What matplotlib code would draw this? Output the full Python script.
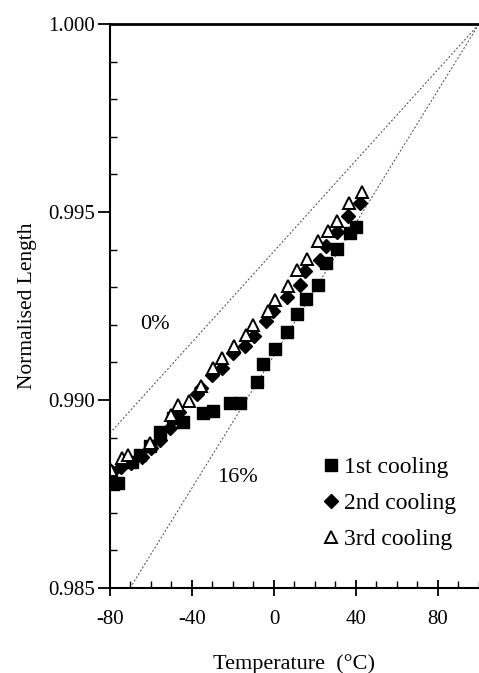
import numpy as np
import matplotlib
matplotlib.use("Agg")
import matplotlib.pyplot as plt
from matplotlib.ticker import MultipleLocator

plt.rcParams['font.family'] = ['Liberation Serif', 'DejaVu Serif']
plt.rcParams['axes.unicode_minus'] = False

# ---------------- data ----------------
t1 = [-78.5, -76.1, -69.4, -65.4, -60.5, -55.6, -49.3, -44.4, -34.6, -29.8,
      -21.5, -16.6, -8.5, -5.5, 0.5, 6.2, 11.4, 15.5, 21.6, 25.4, 30.6, 37.1, 40.0]
L1 = [0.98777, 0.98779, 0.98835, 0.98854, 0.98878, 0.98915, 0.98952, 0.98941,
      0.98965, 0.98971, 0.98992, 0.98992, 0.99048, 0.99096, 0.99136, 0.99181,
      0.99229, 0.99269, 0.99306, 0.99364, 0.99402, 0.99444, 0.99460]

t2 = [-79.0, -74.6, -69.8, -64.4, -60.0, -55.6, -50.7, -46.3, -37.6, -35.6,
      -30.2, -25.4, -20.0, -14.1, -9.8, -3.9, -0.5, 6.3, 12.7, 15.1, 22.4,
      25.4, 30.7, 36.1, 42.0]
L2 = [0.98809, 0.98822, 0.98832, 0.98848, 0.98872, 0.98894, 0.98926, 0.98968,
      0.99016, 0.99032, 0.99066, 0.99085, 0.99125, 0.99144, 0.99170, 0.99210,
      0.99237, 0.99274, 0.99306, 0.99343, 0.99372, 0.99410, 0.99447, 0.99489,
      0.99524]

t3 = [-79.5, -74.1, -71.2, -60.5, -50.2, -46.8, -41.5, -35.6, -29.8, -25.4,
      -19.5, -13.7, -10.2, -2.9, 0.5, 6.8, 11.2, 16.1, 21.5, 26.3, 30.7, 36.6, 42.9]
L3 = [0.98814, 0.98846, 0.98854, 0.98886, 0.98960, 0.98987, 0.98997, 0.99037,
      0.99085, 0.99112, 0.99144, 0.99173, 0.99199, 0.99237, 0.99266, 0.99303,
      0.99346, 0.99375, 0.99423, 0.99449, 0.99476, 0.99524, 0.99553]

# reference lines (0% and 16%), both through (100, 1.000)
line0_x = [-80, 100]
line0_y = [0.98912, 1.000]
line16_x = [-70.2, 100]
line16_y = [0.985, 1.000]

# ---------------- plot ----------------
fig = plt.figure(figsize=(4.79, 6.73), dpi=100)
ax = fig.add_axes([0.2296, 0.1263, 0.7704, 0.838])

ax.plot(line0_x, line0_y, color='#444444', lw=0.7, ls=(0, (2, 2)))
ax.plot(line16_x, line16_y, color='#444444', lw=0.7, ls=(0, (2, 2)))

ax.plot(t1, L1, 's', color='black', ms=8, label='1st cooling')
ax.plot(t2, L2, 'D', color='black', ms=6.8, label='2nd cooling')
ax.plot(t3, L3, '^', mfc='white', mec='black', mew=1.4, ms=8, label='3rd cooling')

ax.text(-58, 0.9920, '0%', fontsize=16, ha='center', va='center')
ax.text(-17.6, 0.98793, '16%', fontsize=16, ha='center', va='center')

ax.set_xlim(-80, 100)
ax.set_ylim(0.985, 1.000)
ax.xaxis.set_major_locator(MultipleLocator(40))
ax.xaxis.set_minor_locator(MultipleLocator(10))
ax.yaxis.set_major_locator(MultipleLocator(0.005))
ax.yaxis.set_minor_locator(MultipleLocator(0.001))
ax.set_xticks([-80, -40, 0, 40, 80])
ax.yaxis.set_major_formatter(plt.FormatStrFormatter('%.3f'))

ax.tick_params(axis='x', which='major', direction='inout', length=12, width=1.3,
               labelsize=15, pad=10)
ax.tick_params(axis='x', which='minor', direction='in', length=5, width=1)
ax.tick_params(axis='y', which='major', direction='out', length=9, width=1.3,
               labelsize=15, pad=2)
ax.tick_params(axis='y', which='minor', direction='in', length=5, width=1)

ax.spines['right'].set_visible(False)
ax.spines['left'].set_linewidth(1.5)
ax.spines['bottom'].set_linewidth(1.5)
ax.spines['top'].set_linewidth(2)

ax.set_xlabel('Temperature  (°C)', fontsize=16, labelpad=18)
ax.set_ylabel('Normalised Length', fontsize=15.5, labelpad=8)

ax.legend(loc='lower left', bbox_to_anchor=(0.51, 0.03), frameon=False,
          fontsize=17, handletextpad=0.05, handlelength=1.0, labelspacing=0.6)

fig.savefig('out.png', dpi=100)
